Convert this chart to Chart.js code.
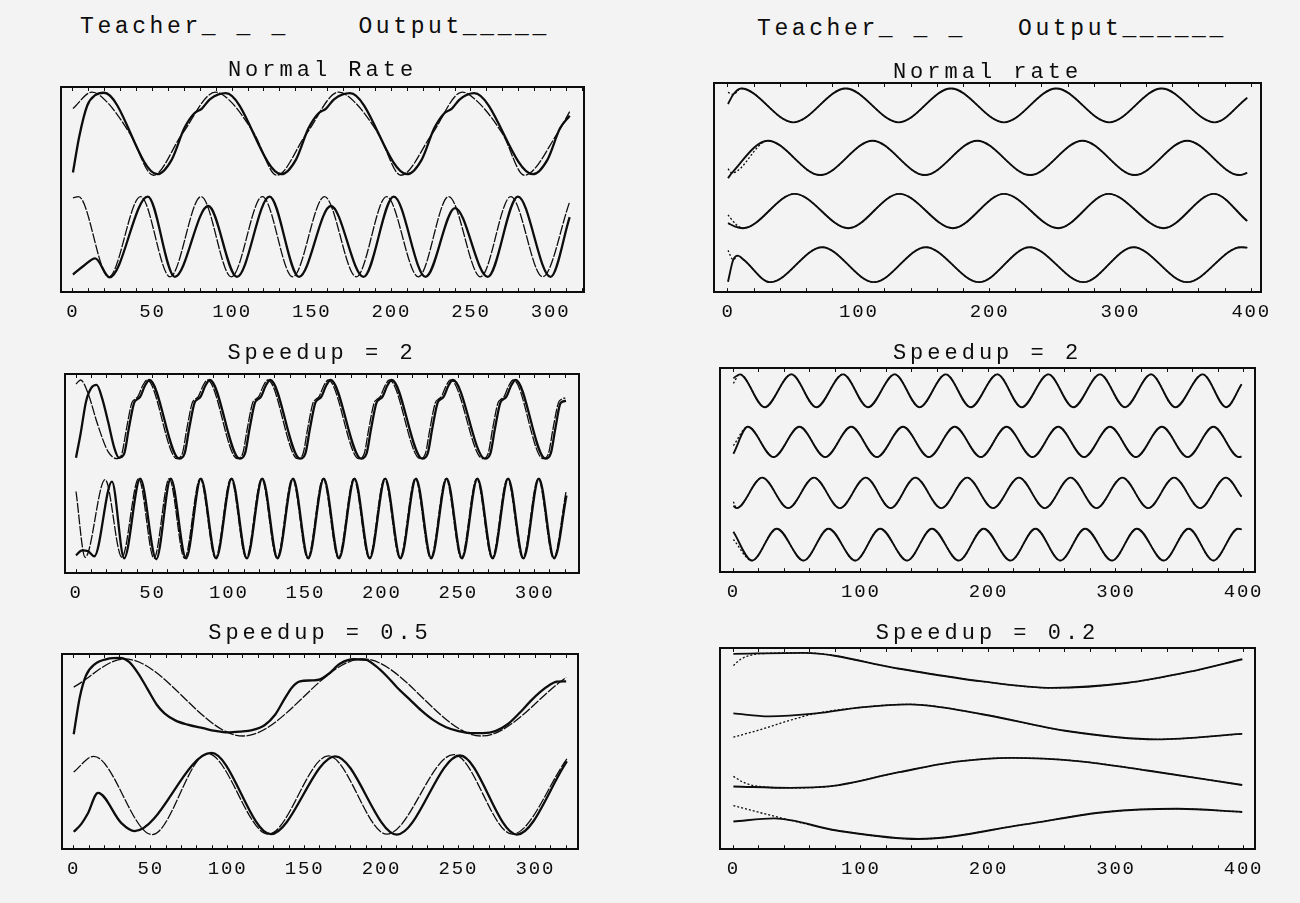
<!DOCTYPE html>
<html><head><meta charset="utf-8">
<script src="https://cdn.jsdelivr.net/npm/chart.js@4.4.1/dist/chart.umd.min.js"></script>
<style>
html,body{margin:0;padding:0;background:#f3f3f3;}
body{width:1300px;height:903px;position:relative;overflow:hidden;font-family:'Liberation Mono',monospace;color:#0d0d0d;}
.hdr{position:absolute;font-size:23px;line-height:23px;letter-spacing:3.6px;white-space:pre;}
canvas{position:absolute;}
</style></head><body>
<div class="hdr" style="left:80px;top:16px">Teacher_ _ _    Output_____</div>
<div class="hdr" style="left:757px;top:18px">Teacher_ _ _   Output______</div>
<canvas id="L1"></canvas><canvas id="L2"></canvas><canvas id="L3"></canvas>
<canvas id="R1"></canvas><canvas id="R2"></canvas><canvas id="R3"></canvas>
<script>
// ---------- tick labels ----------
const leftTickLabels = [0, 50, 100, 150, 200, 250, 300];
const rightTickLabels = [0, 100, 200, 300, 400];

// ---------- titles ----------
const titleL1 = 'Normal Rate', titleL2 = 'Speedup = 2', titleL3 = 'Speedup = 0.5';
const titleR1 = 'Normal rate', titleR2 = 'Speedup = 2', titleR3 = 'Speedup = 0.2';

// ---------- Left panel 1 (Normal Rate) : [x, y] ----------
const L1_topTeacher = [[0,89.5],[12,97.5],[21,93],[36,77],[50.5,57],[68.5,77],[89.5,97.5],[99,93],[114,77],[128,57],[146.5,77],[167,97.5],[176.5,93],[192,77],[206,57],[225.5,77],[244.5,97.5],[254,93],[270,77],[283.5,57],[304,77],[312,88]];
const L1_topOutput = [[0,58.3],[4,76],[9,91],[14,96],[19.5,97.2],[53,57.5],[62,64.5],[70,80],[76,87],[81,89.5],[86,94],[96,97],[131,57.5],[140,64.5],[148,80],[154,87],[159,89.5],[164,94],[174,97],[210,57.5],[219,64.5],[227,80],[233,87],[238,89.5],[243,94],[252,97],[289,57.5],[298,64.5],[306,80],[312,86]];
const L1_botTeacher = [[0,46],[3.5,46.6],[22.5,7.5],[42.5,46.6],[61,7.5],[80.5,46.6],[99.5,7.5],[119,46.6],[138,7.5],[158,46.6],[178,7.5],[197,46.6],[217,7.5],[236,46.6],[256,7.5],[275,46.6],[295,7.5],[312,44]];
const L1_botOutput = [[0,8.6],[7,13],[14,16.5],[23,7.2],[47,46.6],[64,7.5],[85,42],[103,7.5],[123.5,46.6],[142,7.5],[162,42],[182.5,7.5],[201.5,46.6],[221.5,7.5],[240,41],[260.5,7.5],[279.5,46.6],[300,7.5],[312,36.6]];

// ---------- Left panel 2 (Speedup = 2) ----------
const L2_topTeacher = [[0,95],[3,97],[8,90],[14,75],[21,61],[27,57.5],[30,60],[33,72.5],[36.5,85.5],[38.5,87.3],[40.5,88.6],[43.5,94],[46.5,97],[66,57.5],[69.5,60],[72.5,72.5],[76,85.5],[78,87.3],[80,88.6],[83,94],[86,97],[105.5,57.5],[109,60],[112,72.5],[115.5,85.5],[117.5,87.3],[119.5,88.6],[122.5,94],[125.5,97],[145,57.5],[148.5,60],[151.5,72.5],[155,85.5],[157,87.3],[159,88.6],[162,94],[165,97],[185,57.5],[188.5,60],[191.5,72.5],[195,85.5],[197,87.3],[199,88.6],[202,94],[205,97],[225,57.5],[228.5,60],[231.5,72.5],[235,85.5],[237,87.3],[239,88.6],[242,94],[245,97],[266,57.5],[269.5,60],[272.5,72.5],[276,85.5],[278,87.3],[280,88.6],[283,94],[286,97],[305.5,57.5],[309,60],[312,72.5],[315.5,85.5],[317.5,87.3],[320,88]];
const L2_topOutput = [[0,58],[3,70],[6.5,86],[10,93],[13.5,94.5],[17,88],[21,76],[25,63],[28,58],[31.5,60],[34.5,72.5],[38,85.5],[40,87.3],[42,88.6],[45,94],[48,97],[67.5,57.5],[71,60],[74,72.5],[77.5,85.5],[79.5,87.3],[81.5,88.6],[84.5,94],[87.5,97],[107,57.5],[110.5,60],[113.5,72.5],[117,85.5],[119,87.3],[121,88.6],[124,94],[127,97],[146.5,57.5],[150,60],[153,72.5],[156.5,85.5],[158.5,87.3],[160.5,88.6],[163.5,94],[166.5,97],[186.5,57.5],[190,60],[193,72.5],[196.5,85.5],[198.5,87.3],[200.5,88.6],[203.5,94],[206.5,97],[226.5,57.5],[230,60],[233,72.5],[236.5,85.5],[238.5,87.3],[240.5,88.6],[243.5,94],[246.5,97],[267.5,57.5],[271,60],[274,72.5],[277.5,85.5],[279.5,87.3],[281.5,88.6],[284.5,94],[287.5,97],[307,57.5],[310.5,60],[313.5,72.5],[317,85.5],[320.5,86.5]];
const L2_botTeacher = [[0,41],[6,8],[19,47],[30,8],[41,47.5],[51,7.5],[61,47.5],[71,7.5],[81.2,47.5],[91.2,7.5],[101.3,47.5],[111.3,7.5],[121.4,47.5],[131.4,7.5],[141.5,47.5],[151.5,7.5],[161.6,47.5],[171.6,7.5],[181.7,47.5],[191.7,7.5],[201.8,47.5],[211.8,7.5],[221.9,47.5],[231.9,7.5],[242,47.5],[252,7.5],[262.1,47.5],[272.1,7.5],[282.2,47.5],[292.2,7.5],[302.3,47.5],[312.3,7.5],[320.5,40.8]];
const L2_botOutput = [[0,9],[4,11.5],[8,11],[12,8.5],[23.5,46],[31.5,7.5],[42,47.5],[52.5,7],[62,47.5],[72,7.5],[81.7,47.5],[91.7,7.5],[101.8,47.5],[111.8,7.5],[121.9,47.5],[131.9,7.5],[142,47.5],[152,7.5],[162.1,47.5],[172.1,7.5],[182.2,47.5],[192.2,7.5],[202.3,47.5],[212.3,7.5],[222.4,47.5],[232.4,7.5],[242.5,47.5],[252.5,7.5],[262.6,47.5],[272.6,7.5],[282.7,47.5],[292.7,7.5],[302.8,47.5],[312.8,7.5],[320.8,39]];

// ---------- Left panel 3 (Speedup = 0.5) ----------
const L3_topTeacher = [[0,83],[33,97.5],[110,58],[188,97.5],[265,58],[320,88]];
const L3_topOutput = [[0,58.9],[4,78],[8,89],[14,95],[22,97.5],[30,98],[36,96],[42,90],[48,82],[54,74],[59,69.6],[66,66],[74,63.8],[84,62],[92,60.6],[100,59.8],[108,60.2],[116,61],[124,63.5],[131,69],[137,77],[142,83],[147,86],[155,86.5],[160,87],[166,90],[173,95],[182,97.3],[190,97],[196,94],[203,89],[210,83],[218,77],[226,71],[234,66],[242,62.5],[250,60.5],[258,59.5],[266,59.5],[274,60.5],[282,64],[290,70],[297,76],[303,80.5],[309,84],[314,85.8],[320,86]];
const L3_botTeacher = [[0,39.5],[13,47.6],[51,7.5],[87,49],[126.5,7.7],[165.5,47.8],[203.5,7.7],[247,48.5],[285,7.7],[320.5,46.3]];
const L3_botOutput = [[0,8.9],[5,13],[9,18],[15.8,28.9],[31,13.4],[39.6,9.3],[89.5,49.3],[128,7.7],[170,47.6],[210,7.5],[251,48],[288,7.5],[320.5,45]];

// ---------- Right panel 1 (Normal rate) ----------
const R1_c1Output = [[0,90],[4,94.5],[10,97.4],[50,81.2],[90,97.4],[130.5,81.2],[170.5,97.4],[211,81.2],[251,97.4],[291.5,81.2],[331.5,97.4],[372,81.2],[397,93]];
const R1_c1TeacherStart = [[0,95.5]];
const R1_c2Output = [[0,54.5],[3,57],[30.5,72.4],[70.5,56],[110.5,72.4],[150.5,56],[190.5,72.4],[231,56],[271,72.4],[311,56],[351,72.4],[391,56],[397,57]];
const R1_c2TeacherStart = [[0,59]];
const R1_c3Output = [[0,33],[5,31.5],[11.5,30.6],[51,47],[92,30.6],[131,47],[172,30.6],[211,47],[252.5,30.6],[291,47],[333,30.6],[371.5,47],[397,34]];
const R1_c3TeacherStart = [[0,37],[6,32.5]];
const R1_c4Output = [[0,5],[4,15.5],[7.5,17.5],[12,15.5],[32.3,4.8],[72,21.5],[111.6,4.8],[151.2,21.5],[192,4.8],[230.5,21.5],[271.8,4.8],[310,21.5],[351,4.8],[392.3,21.5],[397,21.3]];
const R1_c4TeacherStart = [[0,20]];

// ---------- Right panel 2 (Speedup = 2) ----------
const R2_c1Output = [[0,95],[5,96.9],[24.5,80.8],[45.5,96.9],[65,80.8],[86,96.9],[105.5,80.8],[126.5,96.9],[146,80.8],[166.5,96.9],[186,80.8],[207,96.9],[226,80.8],[247,96.9],[266.5,80.8],[287.5,96.9],[307,80.8],[327.5,96.9],[346.5,80.8],[368,96.9],[386.5,80.8],[398.5,92]];
const R2_c1TeacherStart = [[0,92.5]];
const R2_c2Output = [[0,58],[11.3,71.2],[31.5,56.4],[51.8,71.2],[72,56.4],[92.4,71.2],[112.5,56.4],[133,71.2],[153.3,56.4],[173.6,71.2],[194,56.4],[214.2,71.2],[234.5,56.4],[254.7,71.2],[275,56.4],[295.3,71.2],[315.6,56.4],[336,71.2],[356.2,56.4],[376.4,71.2],[396.5,56.4],[398.5,56.6]];
const R2_c2TeacherStart = [[0,62]];
const R2_c3Output = [[0,32.5],[2.5,31.4],[22.6,46.3],[43,31.4],[63.2,46.3],[83.5,31.4],[103.8,46.3],[123.3,31.4],[142.7,46.3],[163,31.4],[183.3,46.3],[203.6,31.4],[223.9,46.3],[244.2,31.4],[264.4,46.3],[284.7,31.4],[305,46.3],[325.3,31.4],[345.6,46.3],[366,31.4],[386.2,46.3],[398.5,37]];
const R2_c3TeacherStart = [[0,34.5]];
const R2_c4Output = [[0,19.8],[14.6,5.7],[34,21.3],[55.1,5.7],[74.6,21.3],[95.7,5.7],[115.1,21.3],[136.3,5.7],[155.7,21.3],[176.8,5.7],[196.3,21.3],[217.4,5.7],[236.9,21.3],[256.4,5.7],[275.8,21.3],[297,5.7],[316.4,21.3],[337.5,5.7],[357,21.3],[376.4,5.7],[395.9,21.3],[398.5,21]];
const R2_c4TeacherStart = [[0,16]];

// ---------- Right panel 3 (Speedup = 0.2) ----------
const R3_c1Output = [[0,97.1],[55,97.6],[130,89.7],[195,83.4],[250,80.2],[308,82.6],[357,88.1],[399,94.4]];
const R3_c1TeacherStart = [[0,91.3],[6,94.5],[14,96.5],[22,97.2]];
const R3_c2Output = [[0,67.5],[28,66],[65,67.5],[100,70.5],[138,72],[195,67.1],[260,58.9],[332,54.6],[399,57.3]];
const R3_c2TeacherStart = [[0,55.7],[20,59.2],[45,64.2]];
const R3_c3Output = [[0,31.2],[45,30.5],[75,31.2],[130,38.3],[175,43.5],[218,45.4],[270,43.8],[324.5,39.1],[399,31.9]];
const R3_c3TeacherStart = [[0,36.2],[7,33.5],[16,31.6]];
const R3_c4Output = [[0,13.8],[32,15.3],[81,9.3],[145,5.1],[227,12.2],[292,18.5],[348,20.1],[399,18.5]];
const R3_c4TeacherStart = [[0,21.7],[25,17.5],[50,13.6],[75,10]];

// teacher curves coincide with the output after their start transient
function joinAfter(start, output) {
  const lastX = start[start.length - 1][0];
  return start.concat(output.filter(p => p[0] > lastX));
}

// ---------- layout (pixel geometry of each frame) ----------
const geom = {
  L1: {L:61, R:584, T:87, B:302, tc:70, xmin:-7.5, xmax:321, step:10, labels:leftTickLabels, ow:2.3},
  L2: {L:65, R:579, T:374, B:583, tc:353, xmin:-7.2, xmax:329, step:10, labels:leftTickLabels, ow:2.3},
  L3: {L:62, R:578, T:654, B:859, tc:633, xmin:-7.6, xmax:327.7, step:10, labels:leftTickLabels, ow:2.3},
  R1: {L:714, R:1261, T:83, B:302, tc:72, xmin:-10.7, xmax:407.5, step:20, labels:rightTickLabels, ow:1.9},
  R2: {L:720, R:1255, T:368, B:582, tc:353, xmin:-10.5, xmax:409, step:20, labels:rightTickLabels, ow:1.9},
  R3: {L:720, R:1255, T:648, B:859, tc:633, xmin:-10.5, xmax:409, step:20, labels:rightTickLabels, ow:1.9}
};

const INK = '#0d0d0d';
const FONT = "'Liberation Mono', 'Courier New', monospace";
// titles are drawn before the datasets, tick labels (z = 1) after them
const spacing = {
  id: 'spacing',
  beforeDraw(chart) { chart.ctx.letterSpacing = '4px'; },
  afterDatasetsDraw(chart) { chart.ctx.letterSpacing = '1.8px'; }
};

function keepSteps(step) {
  return s => { s.ticks = s.ticks.filter(t => Math.abs(t.value / step - Math.round(t.value / step)) < 1e-6); };
}

function makePanel(id, title, series, teacherDash) {
  const g = geom[id];
  const cv = document.getElementById(id);
  const top = Math.round(g.tc - 11);
  const W = g.R - g.L + 40;
  const H = g.B - top + 34;
  cv.width = W; cv.height = H;
  cv.style.width = W + 'px'; cv.style.height = H + 'px';
  cv.style.left = (g.L - 20) + 'px'; cv.style.top = top + 'px';
  const pb = Math.max(0, g.T - top - 22);
  const frame = { display: true, color: INK, width: 2 };
  const tickGrid = { display: true, drawOnChartArea: false, drawTicks: true, tickLength: -4, color: INK, lineWidth: 1 };
  new Chart(cv, {
    type: 'line',
    data: {
      datasets: series.map(s => ({
        data: s.pts.map(([x, y]) => ({ x, y })),
        borderColor: INK,
        borderWidth: s.teacher ? 1.3 : g.ow,
        borderDash: s.teacher ? teacherDash : [],
        pointRadius: 0, fill: false, cubicInterpolationMode: 'monotone',
        xAxisID: 'x', yAxisID: 'y'
      }))
    },
    options: {
      responsive: false, animation: false, devicePixelRatio: 1, events: [],
      layout: { padding: { left: 20, right: 20, top: 0, bottom: 1 } },
      plugins: {
        legend: { display: false }, tooltip: { enabled: false },
        title: { display: true, text: title, color: INK,
          font: { family: FONT, size: 22, weight: 'normal', lineHeight: 1 },
          padding: { top: 0, bottom: pb } }
      },
      scales: {
        x: { type: 'linear', position: 'bottom', min: g.xmin, max: g.xmax,
          ticks: { stepSize: g.step, includeBounds: false, autoSkip: false, maxRotation: 0, padding: 12, color: INK, z: 1,
            font: { family: FONT, size: 19 },
            callback: v => g.labels.includes(v) ? String(v) : '' },
          afterBuildTicks: keepSteps(g.step),
          grid: tickGrid, border: frame },
        x2: { type: 'linear', position: 'top', min: g.xmin, max: g.xmax,
          ticks: { display: false, stepSize: g.step, includeBounds: false },
          afterBuildTicks: keepSteps(g.step),
          afterFit: s => { s.height = 0; },
          grid: tickGrid, border: frame },
        y: { type: 'linear', position: 'left', min: 0, max: 100,
          ticks: { display: false }, grid: { display: false, drawTicks: false },
          afterFit: s => { s.width = 0; }, border: frame },
        y2: { type: 'linear', position: 'right', min: 0, max: 100,
          ticks: { display: false }, grid: { display: false, drawTicks: false },
          afterFit: s => { s.width = 0; }, border: frame }
      }
    },
    plugins: [spacing]
  });
}

const T = pts => ({ pts, teacher: true });
const O = pts => ({ pts, teacher: false });
const leftDash = [10, 1.5];
const rightDash = [2, 2];

makePanel('L1', titleL1, [T(L1_topTeacher), O(L1_topOutput), T(L1_botTeacher), O(L1_botOutput)], leftDash);
makePanel('L2', titleL2, [T(L2_topTeacher), O(L2_topOutput), T(L2_botTeacher), O(L2_botOutput)], leftDash);
makePanel('L3', titleL3, [T(L3_topTeacher), O(L3_topOutput), T(L3_botTeacher), O(L3_botOutput)], leftDash);
makePanel('R1', titleR1, [
  T(joinAfter(R1_c1TeacherStart, R1_c1Output)), O(R1_c1Output),
  T(joinAfter(R1_c2TeacherStart, R1_c2Output)), O(R1_c2Output),
  T(joinAfter(R1_c3TeacherStart, R1_c3Output)), O(R1_c3Output),
  T(joinAfter(R1_c4TeacherStart, R1_c4Output)), O(R1_c4Output)], rightDash);
makePanel('R2', titleR2, [
  T(joinAfter(R2_c1TeacherStart, R2_c1Output)), O(R2_c1Output),
  T(joinAfter(R2_c2TeacherStart, R2_c2Output)), O(R2_c2Output),
  T(joinAfter(R2_c3TeacherStart, R2_c3Output)), O(R2_c3Output),
  T(joinAfter(R2_c4TeacherStart, R2_c4Output)), O(R2_c4Output)], rightDash);
makePanel('R3', titleR3, [
  T(joinAfter(R3_c1TeacherStart, R3_c1Output)), O(R3_c1Output),
  T(joinAfter(R3_c2TeacherStart, R3_c2Output)), O(R3_c2Output),
  T(joinAfter(R3_c3TeacherStart, R3_c3Output)), O(R3_c3Output),
  T(joinAfter(R3_c4TeacherStart, R3_c4Output)), O(R3_c4Output)], rightDash);
</script>
</body></html>
